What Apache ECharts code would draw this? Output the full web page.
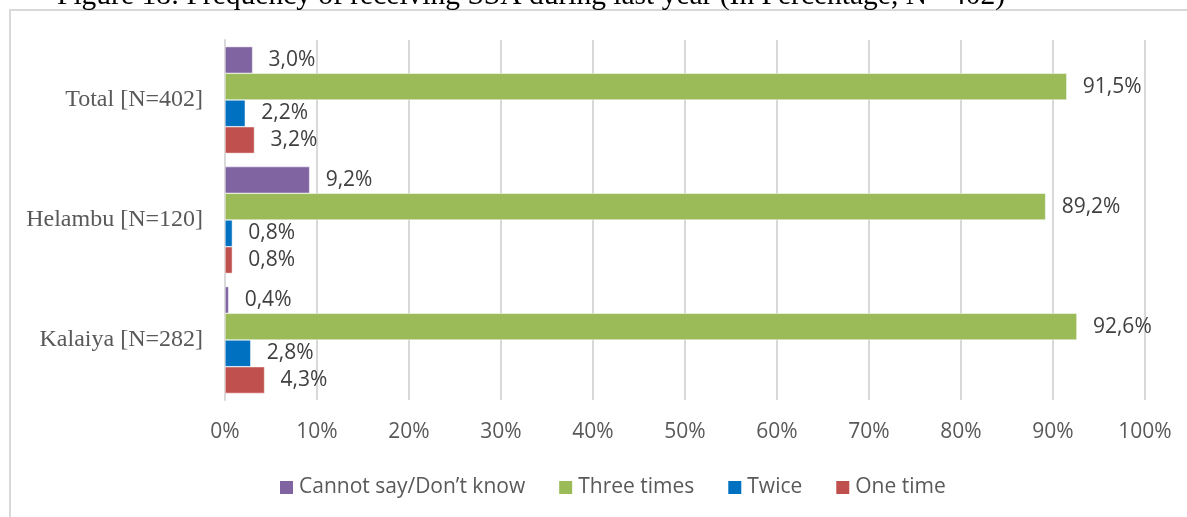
<!DOCTYPE html>
<html>
<head>
<meta charset="utf-8">
<script src="https://cdn.jsdelivr.net/npm/echarts@6/dist/echarts.min.js"></script>
<style>
  html, body { margin: 0; padding: 0; background: #ffffff; }
  #chart { width: 1187px; height: 517px; }
</style>
</head>
<body>
<div id="chart"></div>
<script>
// Categories listed bottom-to-top (ECharts category axis order)
const categories = ['Kalaiya [N=282]', 'Helambu [N=120]', 'Total [N=402]'];
const cannotSay = [0.4, 9.2, 3.0];
const threeTimes = [92.6, 89.2, 91.5];
const twice = [2.8, 0.8, 2.2];
const oneTime = [4.3, 0.8, 3.2];
const seriesNames = ['Cannot say/Don\u2019t know', 'Three times', 'Twice', 'One time'];
const xTicks = [0, 10, 20, 30, 40, 50, 60, 70, 80, 90, 100];
const titleText = 'Figure 18: Frequency of receiving SSA during last year (In Percentage, N= 402)';

const colors = {
  'Cannot say/Don\u2019t know': '#8064A2',
  'Three times': '#9BBB59',
  'Twice': '#0070C0',
  'One time': '#C0504D'
};

function makeSeries(name, data) {
  return {
    name: name,
    type: 'bar',
    data: data,
    barGap: '0%',
    barCategoryGap: '11%',
    itemStyle: { color: colors[name], borderColor: '#ffffff', borderWidth: 0.5 },
    label: {
      show: true,
      position: 'right',
      distance: 16,
      fontFamily: 'Open Sans',
      fontSize: 21,
      color: '#404040',
      formatter: p => p.value.toFixed(1).replace('.', ',') + '%'
    }
  };
}

const chart = echarts.init(document.getElementById('chart'), null, { renderer: 'canvas' });
chart.setOption({
  backgroundColor: '#ffffff',
  animation: false,
  graphic: [
    {
      type: 'rect',
      shape: { x: 10, y: 10, width: 1200, height: 530 },
      style: { fill: 'none', stroke: '#d9d9d9', lineWidth: 2 },
      silent: true
    },
    {
      type: 'text',
      left: 57,
      top: -19,
      style: {
        text: titleText,
        fontFamily: 'Liberation Serif',
        fontSize: 29.5,
        fill: '#000000'
      },
      silent: true
    }
  ],
  legend: {
    left: 273,
    top: 472,
    itemWidth: 15,
    itemHeight: 15,
    itemGap: 32,
    icon: 'rect',
    data: seriesNames,
    textStyle: { fontFamily: 'Open Sans', fontSize: 21, color: '#595959' }
  },
  grid: { left: 225, right: 42, top: 40, bottom: 117, containLabel: false },
  xAxis: {
    type: 'value',
    min: xTicks[0],
    max: xTicks[xTicks.length - 1],
    interval: 10,
    axisLine: { show: false },
    axisTick: { show: false },
    splitLine: { show: true, lineStyle: { color: '#d9d9d9', width: 2 } },
    axisLabel: {
      margin: 22,
      fontFamily: 'Open Sans',
      fontSize: 21,
      color: '#595959',
      formatter: v => v + '%'
    }
  },
  yAxis: {
    type: 'category',
    data: categories,
    axisLine: { show: true, lineStyle: { color: '#d9d9d9', width: 2 } },
    axisTick: { show: false },
    axisLabel: {
      margin: 22,
      fontFamily: 'Liberation Serif',
      fontSize: 24,
      color: '#595959'
    }
  },
  series: [
    makeSeries('Cannot say/Don\u2019t know', cannotSay),
    makeSeries('Three times', threeTimes),
    makeSeries('Twice', twice),
    makeSeries('One time', oneTime)
  ]
});
</script>
</body>
</html>
